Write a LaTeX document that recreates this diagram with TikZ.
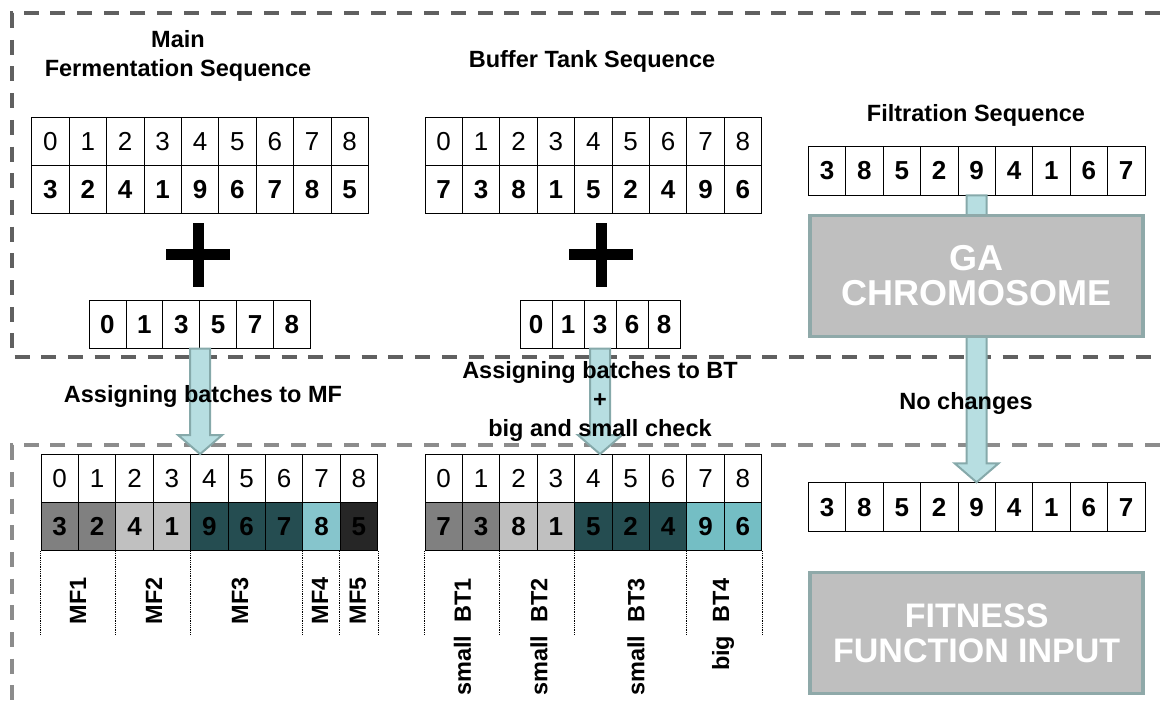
\documentclass[tikz,border=0pt]{standalone}
\usepackage{fontspec}
\setmainfont{Liberation Sans}
\usepackage{tikz}
\definecolor{dashdark}{HTML}{606060}
\definecolor{dashlight}{HTML}{8C8C8C}
\definecolor{arrowfill}{HTML}{B7DEE1}
\definecolor{arrowline}{HTML}{86A9AA}
\definecolor{boxfill}{HTML}{BFBFBF}
\definecolor{boxline}{HTML}{8FA9A9}
\definecolor{grpA}{HTML}{808080}
\definecolor{grpB}{HTML}{C0C0C0}
\definecolor{grpC}{HTML}{254D51}
\definecolor{grpD}{HTML}{86C5CC}
\definecolor{grpE}{HTML}{262626}
\definecolor{grpF}{HTML}{74BEC4}
\usetikzlibrary{calc}

\newcommand{\batcharrow}[2]{%
  \coordinate (tip) at (#1 |- #2);
  \draw[blockarrow] ($(#1)+(-10,0)$) -- ($(tip)+(-10,-19)$) -- ($(tip)+(-22,-19)$) -- (tip)
    -- ($(tip)+(22,-19)$) -- ($(tip)+(10,-19)$) -- ($(#1)+(10,0)$) -- cycle;}

\begin{document}
\begin{tikzpicture}[x=1pt,y=-1pt]
                    \tikzstyle{every node}=[font=\fontsize{23.5}{29}\selectfont\bfseries]
                    \tikzstyle{seqtitle}=[align=center]
                    \tikzstyle{idxcell}=[draw, line width=0.8pt, minimum width=37.4pt, minimum height=48pt, inner sep=0pt, font=\fontsize{26}{26}\selectfont]
                    \tikzstyle{valcell}=[idxcell, font=\fontsize{26}{26}\selectfont\bfseries]
                    \tikzstyle{vlabel}=[rotate=90, anchor=east, inner sep=0pt]
                    \tikzstyle{splitline}=[densely dotted, line width=0.8pt]
                    \tikzstyle{dashbox}=[line width=4pt, dash pattern=on 15pt off 11.7pt]
                    \tikzstyle{blockarrow}=[fill=arrowfill, draw=arrowline, line width=2pt]
                    \tikzstyle{bigbox}=[fill=boxfill, draw=boxline, line width=3.5pt, minimum width=333pt, minimum height=121pt, text=white, align=center, font=\fontsize{36}{35}\selectfont\bfseries]
                    \tikzstyle{plusbar}=[line width=11pt]

                    \useasboundingbox (0,0) rectangle (1160,711);

                    % % dashed frames
                    \draw[dashbox, dashdark] (1160,13.3) -- (11.7,13.3) -- (11.7,357.3) -- (1160,357.3);
                    \draw[dashbox, dashlight] (1160,445.3) -- (11.7,445.3) -- (11.7,711);

                    % % main fermentation sequence
                    \foreach \i in {0,...,8}
                        \node[idxcell](mfi\i) at ({31.7+(\i+0.5)*37.4},141.5) {\i};
                    \foreach \v [count=\i from 0] in {3,2,4,1,9,6,7,8,5}
                        \node[valcell](mfv\i) at ({31.7+(\i+0.5)*37.4},189.5) {\v};
                    \foreach \v [count=\i from 0] in {0,1,3,5,7,8}
                        \node[valcell, minimum width=36.9pt, minimum height=48.3pt](mfs\i) at ({89+(\i+0.5)*36.9},324.2) {\v};

                    % % buffer tank sequence
                    \foreach \i in {0,...,8}
                        \node[idxcell](bti\i) at ({425+(\i+0.5)*37.4},141.5) {\i};
                    \foreach \v [count=\i from 0] in {7,3,8,1,5,2,4,9,6}
                        \node[valcell](btv\i) at ({425+(\i+0.5)*37.4},189.5) {\v};
                    \foreach \v [count=\i from 0] in {0,1,3,6,8}
                        \node[valcell, minimum width=32pt, minimum height=48.3pt](bts\i) at ({520+(\i+0.5)*32},324.2) {\v};

                    % % filtration sequence
                    \foreach \v [count=\i from 0] in {3,8,5,2,9,4,1,6,7} {
                        \node[valcell, minimum height=49pt](ft\i) at ({808.3+(\i+0.5)*37.4},170.5) {\v};
                        \node[valcell, minimum height=49pt](fl\i) at ({808.3+(\i+0.5)*37.4},507.2) {\v};
                    }

                    % % assigned batches
                    \foreach \i in {0,...,8} {
                        \node[idxcell](mfli\i) at ({41+(\i+0.5)*37.4},478.5) {\i};
                        \node[idxcell](btli\i) at ({425+(\i+0.5)*37.4},478.5) {\i};
                    }
                    \foreach \v/\c [count=\i from 0] in {3/grpA,2/grpA,4/grpB,1/grpB,9/grpC,6/grpC,7/grpC,8/grpD,5/grpE}
                        \node[valcell, fill=\c](mflv\i) at ({41+(\i+0.5)*37.4},526.7) {\v};
                    \foreach \v/\c [count=\i from 0] in {7/grpA,3/grpA,8/grpB,1/grpB,5/grpC,2/grpC,4/grpC,9/grpF,6/grpF}
                        \node[valcell, fill=\c](btlv\i) at ({425+(\i+0.5)*37.4},526.7) {\v};

                    \foreach \c in {0,2,4,7,8}
                        \draw[splitline] (mflv\c.south west) -- ++(0,84.3);
                    \draw[splitline] (mflv8.south east) -- ++(0,84.3);
                    \foreach \c in {0,2,4,7}
                        \draw[splitline] (btlv\c.south west) -- ++(0,84.3);
                    \draw[splitline] (btlv8.south east) -- ++(0,84.3);

                    % % arrows
                    \batcharrow{mfs2.south east}{mfli0.north}
                    \batcharrow{bts2.south}{btli0.north}
                    \batcharrow{ft4.south}{fl4.north}

                    \node[bigbox](ga) at (976.7,275.8) {GA\\CHROMOSOME};
                    \node[bigbox, font=\fontsize{34}{35}\selectfont\bfseries](fit) at (976.7,632.8) {FITNESS\\FUNCTION INPUT};

                    % % plus signs
                    \draw[plusbar] (166,255) -- (230,255) (198.3,223.3) -- (198.3,286.7);
                    \draw[plusbar] (569.3,255) -- (633.3,255) (601.3,223.3) -- (601.3,286.7);

                    % % titles and steps
                    \node[seqtitle](mftitle) at (178,55.5) {Main\\Fermentation Sequence};
                    \node(bttitle) at (592,61.7) {Buffer Tank Sequence};
                    \node(fttitle) at (976,115) {Filtration Sequence};
                    \node(mfstep) at (203,396.7) {Assigning batches to MF};
                    \node[seqtitle](btstep) at (600,401.5) {Assigning batches to BT\\+\\big and small check};
                    \node(ftstep) at (966,403.3) {No changes};

                    % % tank labels
                    \node[vlabel](lmf1) at (78,577) {MF1};
                    \node[vlabel](lmf2) at (154,577) {MF2};
                    \node[vlabel](lmf3) at (240,577) {MF3};
                    \node[vlabel](lmf4) at (320,577) {MF4};
                    \node[vlabel](lmf5) at (358,577) {MF5};
                    \node[vlabel](lbt1) at (462.5,578) {small~~BT1};
                    \node[vlabel](lbt2) at (539,578) {small~~BT2};
                    \node[vlabel](lbt3) at (636,578) {small~~BT3};
                    \node[vlabel](lbt4) at (723,578) {big~~BT4};

\end{tikzpicture}
\end{document}
